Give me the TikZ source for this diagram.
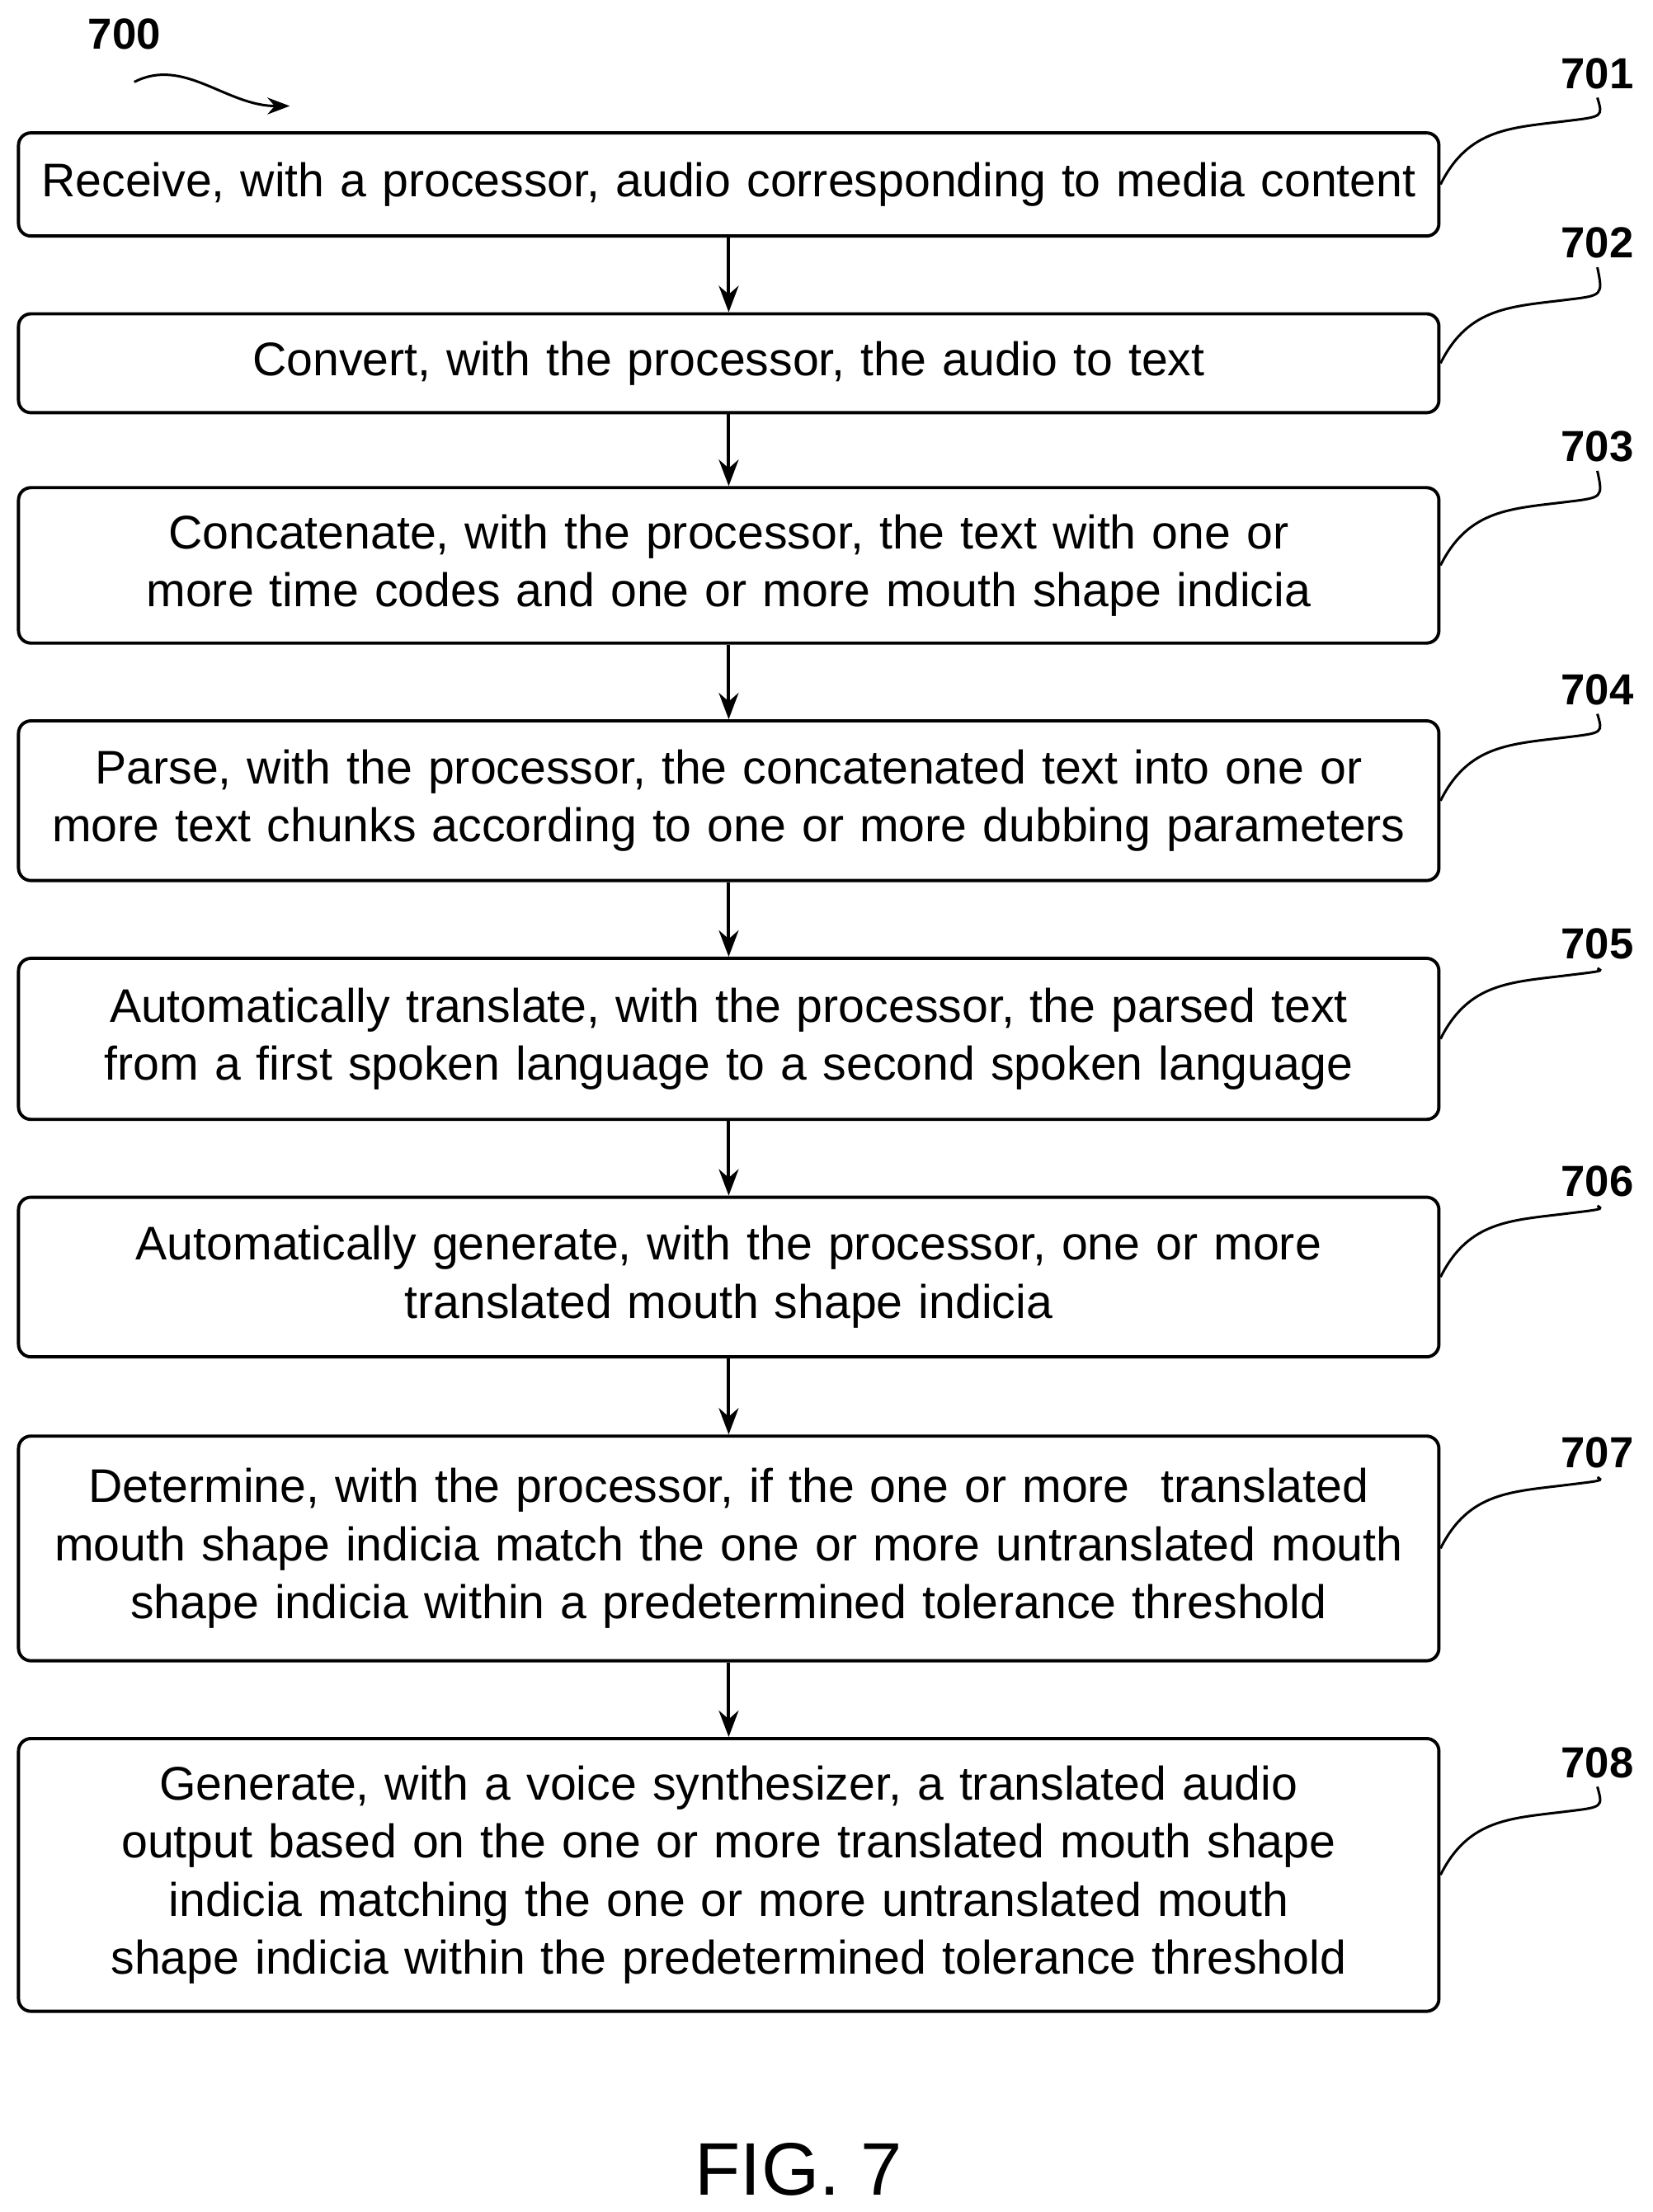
\documentclass[tikz,border=0pt]{standalone}
\usepackage{fontspec}
\setmainfont{Liberation Sans}
\usetikzlibrary{positioning}
\usetikzlibrary{arrows.meta}

\begin{document}
\begin{tikzpicture}[%
  >={Stealth[scale=1.2]},
  stepbox/.style={draw, line width=1.3pt, rounded corners=5pt, text width=19.8cm,
    align=center, inner sep=0pt, minimum width=20.1cm,
    font=\fontsize{19}{23.4}\selectfont},
  ref/.style={font=\fontsize{17.5}{19}\selectfont\bfseries},
  flow/.style={->, line width=1.3pt},
  lead/.style={line width=1pt},
  x=0.02cm, y=-0.02cm,
]
  \useasboundingbox (0,0) rectangle (1169,1565);

  % steps
  \node[stepbox, minimum height=1.46cm] (s701) at (515.5,130.5)
    {Receive, with a processor, audio corresponding to media content};
  \node[stepbox, minimum height=1.40cm] (s702) at (515.5,257)
    {Convert, with the processor, the audio to text};
  \node[stepbox, minimum height=2.20cm] (s703) at (515.5,400)
    {Concatenate, with the processor, the text with one or\\more time codes and one or more mouth shape indicia};
  \node[stepbox, minimum height=2.26cm] (s704) at (515.5,566.5)
    {Parse, with the processor, the concatenated text into one or\\more text chunks according to one or more dubbing parameters};
  \node[stepbox, minimum height=2.28cm] (s705) at (515.5,735)
    {Automatically translate, with the processor, the parsed text\\from a first spoken language to a second spoken language};
  \node[stepbox, minimum height=2.26cm] (s706) at (515.5,903.5)
    {Automatically generate, with the processor, one or more\\translated mouth shape indicia};
  \node[stepbox, minimum height=3.18cm] (s707) at (515.5,1095.5)
    {Determine, with the processor, if the one or more\ \ translated\\mouth shape indicia match the one or more untranslated mouth\\shape indicia within a predetermined tolerance threshold};
  \node[stepbox, minimum height=3.86cm] (s708) at (515.5,1326.5)
    {Generate, with a voice synthesizer, a translated audio\\output based on the one or more translated mouth shape\\indicia matching the one or more untranslated mouth\\shape indicia within the predetermined tolerance threshold};

  % arrows
  \foreach \a/\b in {701/702,702/703,703/704,704/705,705/706,706/707,707/708}
    \draw[flow] (s\a) -- (s\b);

  % reference numerals
  \foreach \n/\y in {701/52,702/172,703/316,704/488,705/668,706/836,707/1028,708/1247} {
    \node[ref] (r\n) at (1130,\y) {\n};
    \draw[lead] (s\n.east) .. controls ++(20,-40) and ++(-40,5) .. ++(90,-45)
      .. controls ++(25,-3) .. (r\n.south);
  }

  \node[ref] (r700) at (88,24) {700};
  \coordinate (t700) at (205,75);
  \draw[lead,->] (95,58) .. controls (130,40) and (160,75) .. (t700);

  \node[font=\fontsize{30}{34}\selectfont] (fig) at (565,1535) {FIG. 7};
\end{tikzpicture}
\end{document}
